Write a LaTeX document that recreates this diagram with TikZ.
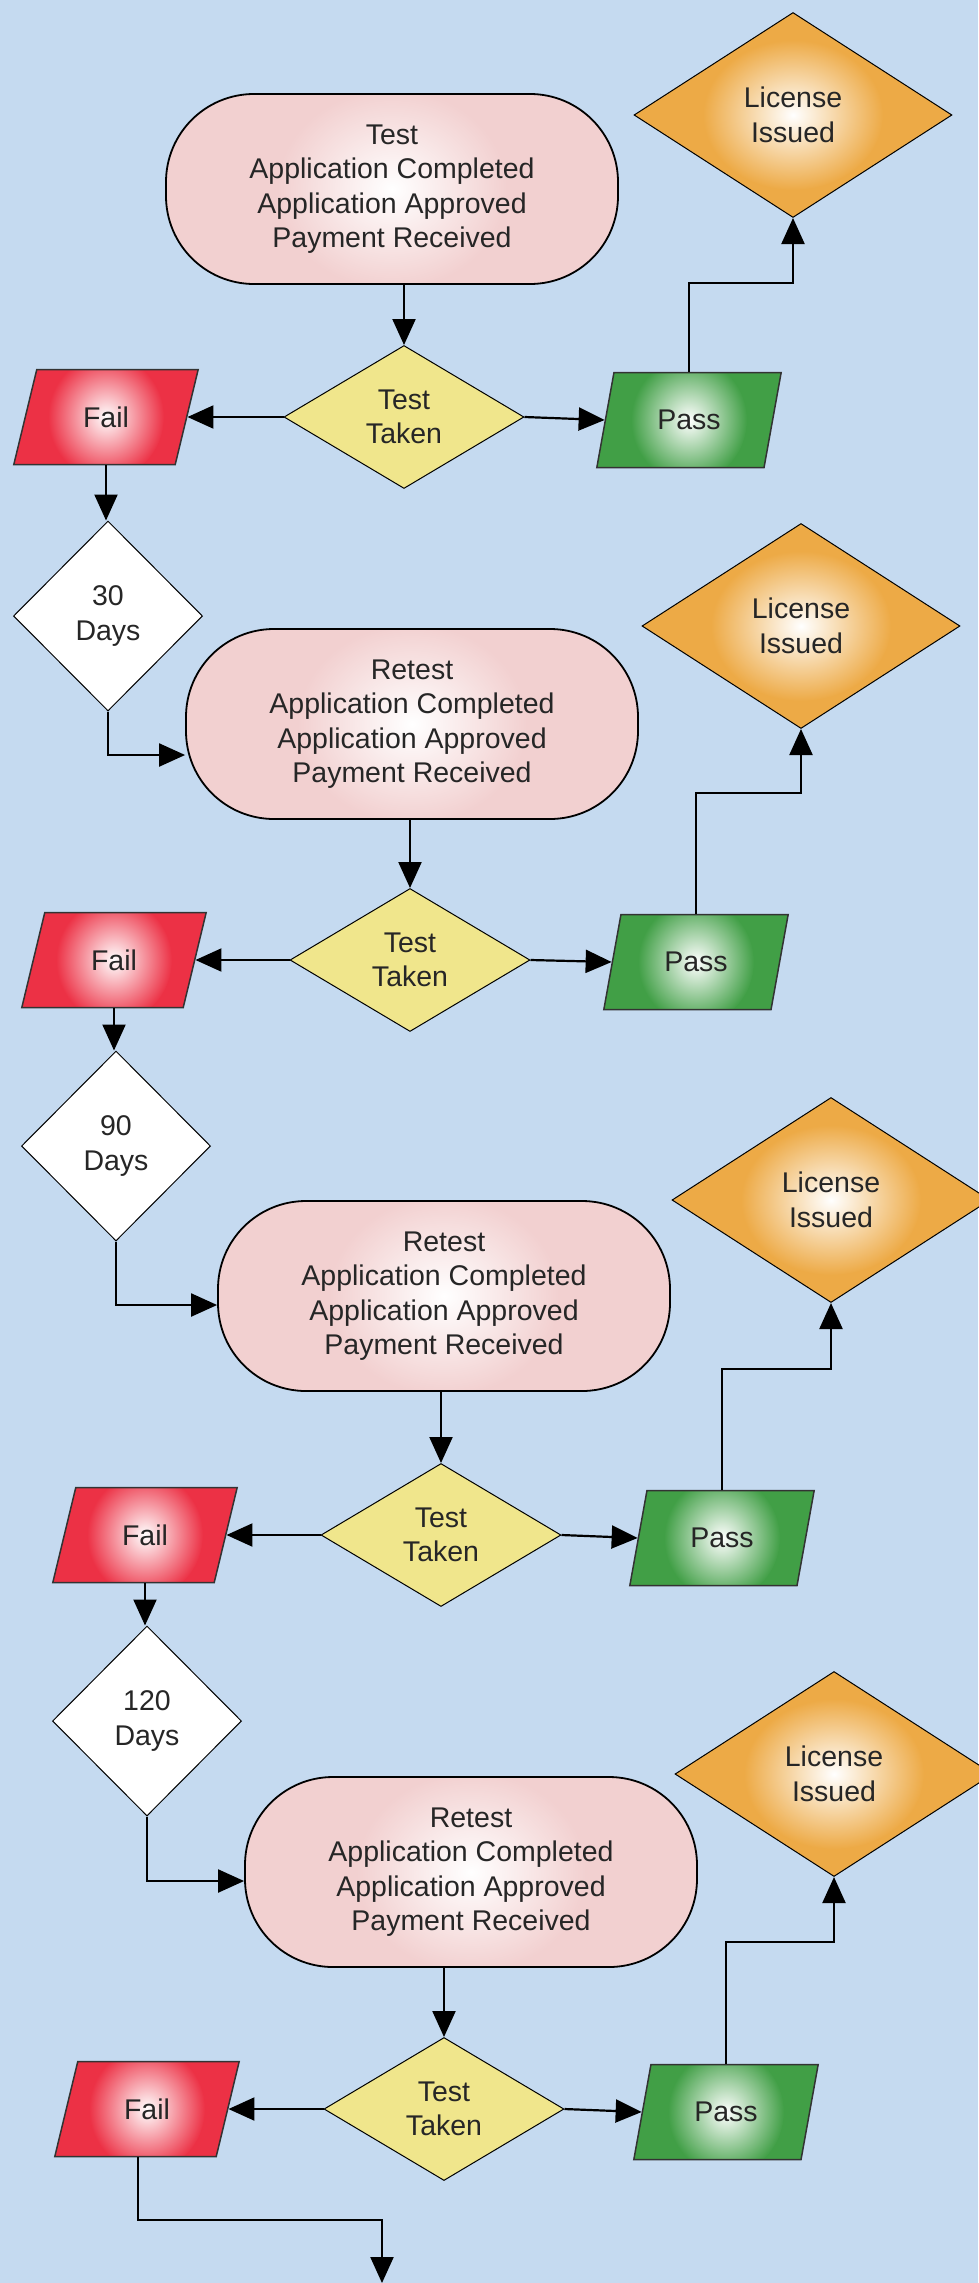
\documentclass[tikz,border=0pt]{standalone}
\usepackage{fontspec}
\setmainfont{Liberation Sans}
\usetikzlibrary{arrows.meta,shapes.geometric}

\definecolor{bgblue}{RGB}{197,218,240}
\definecolor{termpink}{RGB}{242,208,208}
\definecolor{failred}{RGB}{236,49,69}
\definecolor{passgreen}{RGB}{65,159,70}
\definecolor{licorange}{RGB}{237,170,70}
\definecolor{testyellow}{RGB}{240,230,140}

\begin{document}
\begin{tikzpicture}[x=1pt,y=-1pt,
  every node/.style={font=\fontsize{28.5}{34.5}\selectfont, align=center, text=black!85, inner sep=0pt},
  glow/.style n args={3}{path picture={
    \fill[#1] (path picture bounding box.south west) rectangle (path picture bounding box.north east);
    \shade[inner color=white, outer color=#1] (path picture bounding box.center) ellipse [x radius=#2, y radius=#3];}},
  term/.style={draw, line width=1.8pt, rectangle, rounded corners=88pt, minimum width=452pt, minimum height=190pt, glow={termpink}{115}{100}},
  testbox/.style={draw, line width=1pt, diamond, aspect=1.68, minimum width=240pt, minimum height=143pt, fill=testyellow},
  slab/.style={draw=black!80, line width=1.5pt, trapezium, trapezium left angle=70, trapezium right angle=110, trapezium stretches=true, minimum width=185pt, minimum height=95pt},
  failbox/.style={slab, glow={failred}{58}{62}},
  passbox/.style={slab, glow={passgreen}{58}{62}},
  licbox/.style={draw, line width=1pt, diamond, minimum width=318pt, minimum height=205pt, glow={licorange}{90}{75}},
  waitbox/.style={draw, line width=1pt, diamond, minimum width=189pt, minimum height=190pt, fill=white},
  arr/.style={line width=2.2pt, -{Triangle[length=26pt,width=23pt]}}]

\fill[bgblue] (0,0) rectangle (978,2283);
\useasboundingbox (0,0) rectangle (978,2283);

% first test
\path (392,189)  node[term]    (T1) {Test\\Application Completed\\Application Approved\\Payment Received};
\path (404,417)  node[testbox] (D1) {Test\\Taken};
\path (106,417)  node[failbox] (F1) {Fail};
\path (689,420)  node[passbox] (P1) {Pass};
\path (793,115)  node[licbox]  (L1) {License\\Issued};

% retest after 30 days
\path (108,616)  node[waitbox] (W1) {30\\Days};
\path (412,724)  node[term]    (T2) {Retest\\Application Completed\\Application Approved\\Payment Received};
\path (410,960)  node[testbox] (D2) {Test\\Taken};
\path (114,960)  node[failbox] (F2) {Fail};
\path (696,962)  node[passbox] (P2) {Pass};
\path (801,626)  node[licbox]  (L2) {License\\Issued};

% retest after 90 days
\path (116,1146) node[waitbox] (W2) {90\\Days};
\path (444,1296) node[term]    (T3) {Retest\\Application Completed\\Application Approved\\Payment Received};
\path (441,1535) node[testbox] (D3) {Test\\Taken};
\path (145,1535) node[failbox] (F3) {Fail};
\path (722,1538) node[passbox] (P3) {Pass};
\path (831,1200) node[licbox]  (L3) {License\\Issued};

% retest after 120 days
\path (147,1721) node[waitbox] (W3) {120\\Days};
\path (471,1872) node[term]    (T4) {Retest\\Application Completed\\Application Approved\\Payment Received};
\path (444,2109) node[testbox] (D4) {Test\\Taken};
\path (147,2109) node[failbox] (F4) {Fail};
\path (726,2112) node[passbox] (P4) {Pass};
\path (834,1774) node[licbox]  (L4) {License\\Issued};

\coordinate (out) at (382,2283);

\draw[arr] (D1.north |- T1.south) -- (D1.north);
\draw[arr] (D1.west) -- (F1.east);
\draw[arr] (D1.east) -- (P1.west);
\draw[arr] (P1.north) -- ++(0,-89) -| (L1.south);
\draw[arr] (F1.south) -- (F1.south |- W1.north);
\draw[arr] (W1.south) |- ([yshift=-31pt]T2.west);

\draw[arr] (D2.north |- T2.south) -- (D2.north);
\draw[arr] (D2.west) -- (F2.east);
\draw[arr] (D2.east) -- (P2.west);
\draw[arr] (P2.north) -- ++(0,-121) -| (L2.south);
\draw[arr] (F2.south) -- (F2.south |- W2.north);
\draw[arr] (W2.south) |- ([yshift=-9pt]T3.west);

\draw[arr] (D3.north |- T3.south) -- (D3.north);
\draw[arr] (D3.west) -- (F3.east);
\draw[arr] (D3.east) -- (P3.west);
\draw[arr] (P3.north) -- ++(0,-121) -| (L3.south);
\draw[arr] (F3.south) -- (F3.south |- W3.north);
\draw[arr] (W3.south) |- ([yshift=-9pt]T4.west);

\draw[arr] (D4.north |- T4.south) -- (D4.north);
\draw[arr] (D4.west) -- (F4.east);
\draw[arr] (D4.east) -- (P4.west);
\draw[arr] (P4.north) -- ++(0,-122) -| (L4.south);
\draw[arr] ([xshift=-9pt]F4.south) -- ++(0,63) -| (out);
\end{tikzpicture}
\end{document}
